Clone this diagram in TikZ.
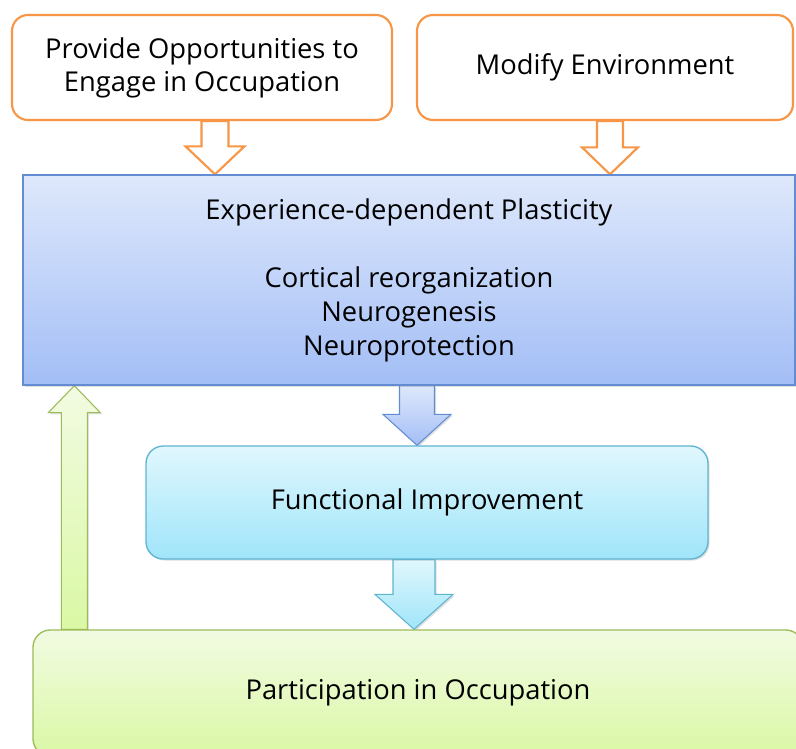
\documentclass[tikz,border=0pt]{standalone}
\usepackage{fontspec}
\setmainfont{Open Sans}
\usetikzlibrary{calc,shadows,backgrounds}

\definecolor{boxorange}{RGB}{247,150,70}
\definecolor{plastline}{RGB}{100,140,210}
\definecolor{plasttop}{RGB}{222,232,251}
\definecolor{plastbot}{RGB}{163,190,246}
\definecolor{funcline}{RGB}{95,180,210}
\definecolor{functop}{RGB}{224,247,253}
\definecolor{funcbot}{RGB}{160,229,250}
\definecolor{partline}{RGB}{155,187,89}
\definecolor{parttop}{RGB}{242,251,226}
\definecolor{partbot}{RGB}{218,248,165}

% block arrow: style, start, tip, shaft half width, head half width, offset of head base from tip
\newcommand{\blockarrow}[6]{%
  \draw[#1] ($(#2)+(-#4,0)$) -- ($(#2)+(#4,0)$) -- ($(#3)+(#4,#6)$) -- ($(#3)+(#5,#6)$)
    -- (#3) -- ($(#3)+(-#5,#6)$) -- ($(#3)+(-#4,#6)$) -- cycle;}

\begin{document}
\begin{tikzpicture}[x=0.75pt,y=0.75pt,yscale=-1,xscale=1,
    txt/.style={font=\fontsize{20.5}{24.75}\selectfont,align=center,text=black},
    orangebox/.style={txt,draw=boxorange,line width=1.6pt,fill=white,rounded corners=12pt,
      minimum height=78.75pt},
    shade/.style={drop shadow={opacity=0.25,shadow xshift=1.2pt,shadow yshift=-1.2pt}},
    plastbox/.style={txt,draw=plastline,line width=1pt,top color=plasttop,bottom color=plastbot,
      shade,minimum width=579pt,minimum height=157.5pt,font=\fontsize{20.5}{25.5}\selectfont},
    funcbox/.style={txt,draw=funcline,line width=1pt,top color=functop,bottom color=funcbot,
      shade,rounded corners=13pt,minimum width=421.5pt,minimum height=84.75pt},
    partbox/.style={txt,draw=partline,line width=1pt,top color=parttop,bottom color=partbot,
      shade,rounded corners=13pt,minimum width=577.5pt,minimum height=94.5pt},
    orangearrow/.style={draw=boxorange,line width=1.6pt,fill=white,line join=miter},
    bluearrow/.style={draw=plastline,line width=0.8pt,top color=plasttop,bottom color=plastbot,shade},
    cyanarrow/.style={draw=funcline,line width=0.8pt,top color=functop,bottom color=funcbot,shade},
    greenarrow/.style={draw=partline,line width=0.8pt,top color=parttop,bottom color=partbot,shade}]
  \useasboundingbox (0,0) rectangle (796,749);

  \node[orangebox,minimum width=285pt] (prov) at (202,67.5) {Provide Opportunities to\\Engage in Occupation};
  \node[orangebox,minimum width=282pt] (modify) at (605,67.5) {Modify Environment};
  \node[plastbox] (plast) at (409,280) {Experience-dependent Plasticity\\[25.5pt]Cortical reorganization\\Neurogenesis\\Neuroprotection};
  \node[funcbox] (func) at (427,502.5) {Functional Improvement};
  \node[partbox] (part) at (418,693) {Participation in Occupation};

  \coordinate (a1) at ($(prov.south)+(13,0)$);
  \coordinate (a2) at ($(modify.south)+(5,0)$);
  \coordinate (a3) at ($(plast.south)+(8,0)$);
  \coordinate (a4) at ($(func.south)+(-13,0)$);
  \coordinate (a5) at ($(part.north west)+(42,0)$);

  \begin{scope}[on background layer]
    \blockarrow{orangearrow}{a1}{a1 |- plast.north}{13.5}{29.5}{-28}
    \blockarrow{orangearrow}{a2}{a2 |- plast.north}{13}{28}{-27}
    \blockarrow{bluearrow}{a3}{a3 |- func.north}{17.5}{34}{-31}
    \blockarrow{cyanarrow}{a4}{a4 |- part.north}{21}{39}{-35}
    \blockarrow{greenarrow}{a5}{a5 |- plast.south}{13}{26}{27}
  \end{scope}
\end{tikzpicture}
\end{document}
